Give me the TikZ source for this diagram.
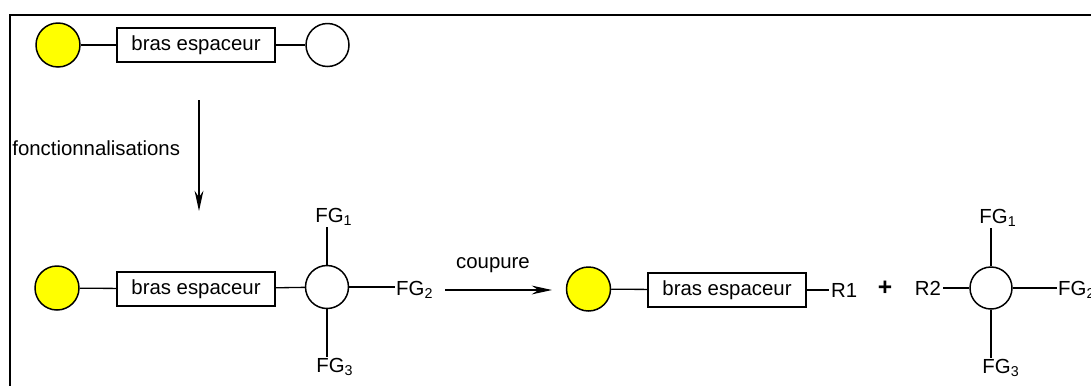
\documentclass[tikz,border=0pt]{standalone}
\usepackage{fontspec}
\setmainfont{Liberation Sans}
\usetikzlibrary{arrows.meta}
\definecolor{graftyellow}{RGB}{255,255,0}

\begin{document}
\begin{tikzpicture}[x=0.02cm, y=-0.02cm,
  every node/.style={font=\fontsize{11.6}{14}\selectfont},
  grafted/.style={draw, circle, line width=0.85pt, fill=graftyellow, minimum size=0.88cm, inner sep=0pt},
  freeend/.style={draw, circle, line width=0.85pt, fill=white, minimum size=0.86cm, inner sep=0pt},
  spacerbox/.style={draw, rectangle, line width=0.85pt, minimum width=3.16cm, minimum height=0.68cm, inner sep=0pt},
  fglabel/.style={inner sep=0.5pt},
  bond/.style={line width=0.75pt},
  arrow/.style={-{Stealth[length=11.5pt, width=5pt]}, line width=0.75pt}
]

\useasboundingbox (0,0) rectangle (1091,386);
\clip (0,0) rectangle (1091,386);

% frame (only its top and left sides fall inside the picture)
\draw[line width=1.1pt] (1091,15) -- (10,15) -- (10,386);

% starting support
\node[grafted] (g1) at (58,45) {};
\node[spacerbox] (s1) at (196,45) {bras espaceur};
\node[freeend] (f1) at (327.5,45) {};
\draw[bond] (g1) -- (s1);
\draw[bond] (s1) -- (f1);

\coordinate (fstart) at (199,100);
\coordinate (fend) at (199,211);
\draw[arrow] (fstart) -- (fend);
\node[anchor=west, inner sep=0pt] (fonct) at (12,148) {fonctionnalisations};

% functionalised support
\node[grafted] (g2) at (57,288) {};
\node[spacerbox] (s2) at (196,289) {bras espaceur};
\node[freeend] (f2) at (327,287) {};
\draw[bond] (g2) -- (s2);
\draw[bond] (s2) -- (f2);

\node[fglabel] (fg1a) at (334,217) {FG\textsubscript{1}};
\node[fglabel, anchor=west] (fg2a) at (395,290) {FG\textsubscript{2}};
\node[fglabel] (fg3a) at (335,367) {FG\textsubscript{3}};
\draw[bond] (f2.north) -- (f2.north |- fg1a.south);
\draw[bond] (f2.east) -- (f2.east -| fg2a.west);
\draw[bond] (f2.south) -- (f2.south |- fg3a.north);

\coordinate (cstart) at (445,290);
\coordinate (cend) at (552,290);
\draw[arrow] (cstart) -- (cend);
\node (coupure) at (493,265) {coupure};

% products
\node[grafted] (g3) at (588.5,289) {};
\node[spacerbox] (s3) at (727,290) {bras espaceur};
\node[anchor=west, inner sep=1pt] (r1) at (829,290) {R1};
\draw[bond] (g3) -- (s3);
\draw[bond] (s3) -- (r1);

\node[font=\fontsize{14}{16}\selectfont\bfseries] (plus) at (885,288) {+};

\node[anchor=east, inner sep=1pt] (r2) at (943,288) {R2};
\node[freeend, minimum size=0.84cm] (f3) at (991,288) {};
\draw[bond] (r2) -- (f3);

\node[fglabel] (fg1b) at (998,218) {FG\textsubscript{1}};
\node[fglabel, anchor=west] (fg2b) at (1057,290) {FG\textsubscript{2}};
\node[fglabel] (fg3b) at (1001,368) {FG\textsubscript{3}};
\draw[bond] (f3.north) -- (f3.north |- fg1b.south);
\draw[bond] (f3.east) -- (f3.east -| fg2b.west);
\draw[bond] (f3.south) -- (f3.south |- fg3b.north);

\end{tikzpicture}
\end{document}
